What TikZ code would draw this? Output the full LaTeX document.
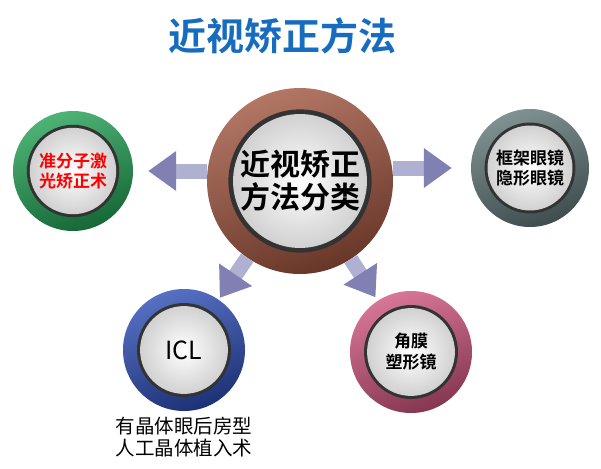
\documentclass[tikz,border=0pt]{standalone}
\usepackage{fontspec}
\newfontfamily\cjk{Noto Sans CJK SC}[BoldFont={Noto Sans CJK SC Bold}]
\usepackage{tikz}
\usetikzlibrary{
  arrows.meta,  % Triangle 箭头
  positioning   % 节点相对定位
}
\definecolor{titleblue}{RGB}{22,108,190}
\definecolor{ringbrown}{RGB}{160,84,62}
\definecolor{ringgreen}{RGB}{34,160,84}
\definecolor{ringslate}{RGB}{96,118,118}
\definecolor{ringblue}{RGB}{44,76,180}
\definecolor{ringpink}{RGB}{206,84,126}
\definecolor{arrowlight}{RGB}{176,176,210}
\definecolor{arrowdark}{RGB}{128,128,178}

\begin{document}
\begin{tikzpicture}[x=1pt, y=-1pt, font=\cjk,
  lens/.style 2 args={circle, minimum size=#2*2pt, inner sep=0pt, align=center,
    top color=#1!80!white, middle color=#1, bottom color=#1!65!black, shading angle=20,
    path picture={
      \fill[black!80] (path picture bounding box.center) circle ({0.77*#2pt});
      \shade[inner color=white, outer color=black!18]
        (path picture bounding box.center) circle ({0.72*#2pt});
    }},
  bigarrow/.style={line width=15pt, arrowlight,
    -{Triangle[width=38pt, length=28pt, color=arrowdark]}, shorten >=#1}]
  \useasboundingbox (0,0) rectangle (601,468);

  % 标题
  \node[text=titleblue, font=\cjk\bfseries\fontsize{38}{40}\selectfont] (title) at (282,36) {近视矫正方法};

  % 中心圆
  \node[lens={ringbrown}{93}, font=\cjk\bfseries\fontsize{30}{33}\selectfont] (hub) at (300,181) {近视矫正\\方法分类};

  % 四个分类
  \node[lens={ringgreen}{60}, text=red, font=\cjk\bfseries\fontsize{17}{20}\selectfont] (lasik) at (73,171) {准分子激\\光矫正术};
  \node[lens={ringslate}{59}, font=\cjk\bfseries\fontsize{17}{20}\selectfont] (frame) at (530,168) {框架眼镜\\隐形眼镜};
  \node[lens={ringblue}{61}, font=\cjk\fontsize{25}{28}\selectfont] (icl) at (184,350) {ICL};
  \node[lens={ringpink}{61}, font=\cjk\bfseries\fontsize{17}{21}\selectfont] (ortho) at (411,352) {角膜\\塑形镜};

  % ICL 说明
  \node[below=2pt of icl, align=center, font=\cjk\fontsize{19.5}{22}\selectfont] (iclnote) {有晶体眼后房型\\人工晶体植入术};

  % 箭头
  \draw[bigarrow=15pt] (hub.west |- lasik) -- (lasik);
  \draw[bigarrow=19pt] (hub.east |- frame) -- (frame);
  \draw[bigarrow=2pt] (hub) -- (icl);
  \draw[bigarrow=4pt] (hub) -- (ortho);
\end{tikzpicture}
\end{document}
